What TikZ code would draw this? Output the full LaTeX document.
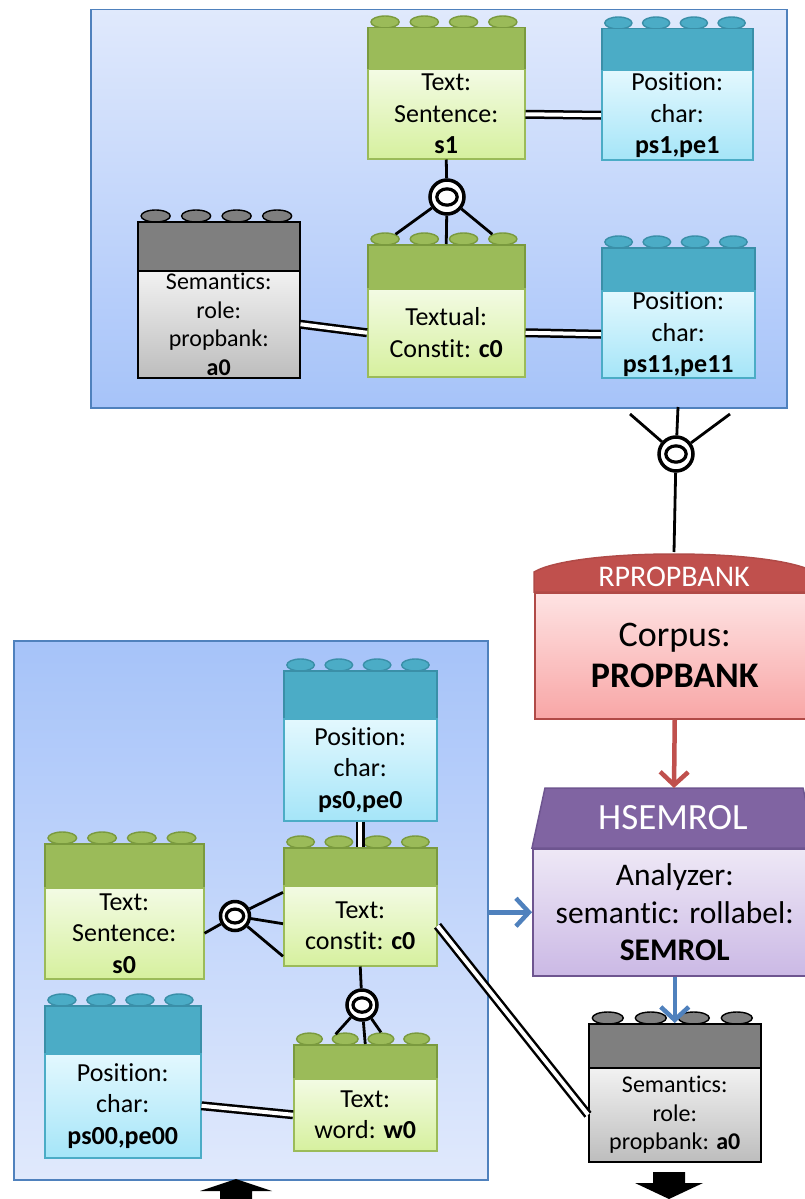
\documentclass[tikz,border=0pt]{standalone}
\usepackage{fontspec}
\setmainfont[Ligatures=NoCommon]{Carlito}
\usetikzlibrary{shapes.geometric,calc,arrows.meta,shadows}

\definecolor{gdark}{HTML}{9BBB59}
\definecolor{gline}{HTML}{7A9A3E}
\definecolor{gtop}{HTML}{F3FBE4}
\definecolor{gbot}{HTML}{D6F09E}
\definecolor{tdark}{HTML}{4BACC6}
\definecolor{tline}{HTML}{3A8FA8}
\definecolor{ttop}{HTML}{E3F8FE}
\definecolor{tbot}{HTML}{A5E5F8}
\definecolor{kdark}{HTML}{7F7F7F}
\definecolor{ktop}{HTML}{F2F2F2}
\definecolor{kbot}{HTML}{BDBDBD}
\definecolor{panelline}{HTML}{4F81BD}
\definecolor{panellight}{HTML}{E0E9FC}
\definecolor{paneldark}{HTML}{A6C3F9}
\definecolor{rdark}{HTML}{C0504D}
\definecolor{rline}{HTML}{B04A47}
\definecolor{rtop}{HTML}{FEE3E3}
\definecolor{rbot}{HTML}{F8A6A6}
\definecolor{pdark}{HTML}{8064A2}
\definecolor{pline}{HTML}{6E5590}
\definecolor{ptop}{HTML}{EEE8F6}
\definecolor{pbot}{HTML}{CBB9E5}
\definecolor{bluearrow}{HTML}{4F81BD}

\tikzset{
  shadowed/.style={drop shadow={shadow xshift=1.5pt, shadow yshift=-1.5pt, opacity=0.25, fill=black}},
  legofont/.style={font=\fontsize{26}{31.5}\selectfont},
  semfont/.style={font=\fontsize{24}{28.5}\selectfont},
  studbase/.style={ellipse, line width=1.4pt, minimum height=12, inner sep=0},
  headbase/.style={rectangle, line width=1.5pt, inner sep=0},
  bodybase/.style={rectangle, line width=1.5pt, inner sep=0, align=center, shadowed},
  gstud/.style={studbase, draw=gline, fill=gdark},
  ghead/.style={headbase, draw=gline, fill=gdark},
  gbody/.style={bodybase, draw=gdark, top color=gtop, bottom color=gbot, legofont},
  tstud/.style={studbase, draw=tline, fill=tdark},
  thead/.style={headbase, draw=tline, fill=tdark},
  tbody/.style={bodybase, draw=tdark, top color=ttop, bottom color=tbot, legofont},
  kstud/.style={studbase, draw=black, fill=kdark},
  khead/.style={headbase, draw=black, fill=kdark},
  kbody/.style={bodybase, draw=black, top color=ktop, bottom color=kbot, semfont},
  panel/.style={rectangle, draw=panelline, line width=1.5pt, inner sep=0, shadowed},
  conn/.style={line width=2.8pt, black},
  dbl/.style={double=white, double distance=4pt, line width=2.5pt},
  ringnode/.style={circle, draw=black, fill=white, line width=3.5pt, inner sep=0},
  colarrow/.style={line width=4.5pt, -{Straight Barb[length=13pt,width=28pt]}},
}

\newcommand\legoblock[8]{%
  \pgfmathsetmacro\lgw{#5-#3}%
  \pgfmathsetmacro\lgh{#6-#4}%
  \pgfmathsetmacro\lgb{#7-#6}%
  \pgfmathsetmacro\lgsw{0.18*\lgw}%
  \foreach \k in {0,1,2,3}{%
    \pgfmathsetmacro\lgsx{#3+\lgw*(0.115+0.25*\k)}%
    \node[#2stud, minimum width=\lgsw] (#1-s\k) at (\lgsx,#4-5) {};
  }%
  \node[#2head, minimum width=\lgw, minimum height=\lgh, anchor=north west] (#1h) at (#3,#4) {};
  \node[#2body, minimum width=\lgw, minimum height=\lgb, anchor=north west] (#1) at (#3,#6) {#8};
}

\newcommand\ringat[4]{%
  \node[ringnode, minimum size=#4] (#1) at (#2,#3) {};
  \draw[line width=3.2pt, fill=white] (#1.center) ellipse [x radius=0.3*#4, y radius=0.24*#4];
}

\begin{document}
\begin{tikzpicture}[x=1pt,y=-1pt]
\useasboundingbox (0,0) rectangle (805,1199);
\clip (0,0) rectangle (805,1199);
\fill[white] (0,0) rectangle (805,1199);

% panels
\node[panel, top color=panellight, bottom color=paneldark, minimum width=696, minimum height=398, anchor=north west] (toppanel) at (90,9) {};
\node[panel, top color=paneldark, bottom color=panellight, minimum width=474, minimum height=539, anchor=north west] (botpanel) at (13,640) {};

% top panel blocks
\legoblock{s1}{g}{367}{27}{524}{69}{158}{Text:\\Sentence:\\\textbf{s1}}
\legoblock{ps1}{t}{601}{28}{752}{70}{159}{Position:\\char:\\\textbf{ps1,pe1}}
\legoblock{a0top}{k}{137}{221}{299}{270}{377}{Semantics:\\role:\\propbank:\\\textbf{a0}}
\legoblock{c0top}{g}{367}{244}{524}{288}{376}{Textual:\\Constit: \textbf{c0}}
\legoblock{ps11}{t}{601}{247}{754}{290}{377}{Position:\\char:\\\textbf{ps11,pe11}}

% bottom panel blocks
\legoblock{ps0}{t}{283}{670}{436}{718}{820}{Position:\\char:\\\textbf{ps0,pe0}}
\legoblock{s0}{g}{44}{843}{203}{887}{978}{Text:\\Sentence:\\\textbf{s0}}
\legoblock{c0}{g}{283}{847}{436}{885}{965}{Text:\\constit: \textbf{c0}}
\legoblock{ps00}{t}{44}{1005}{200}{1053}{1157}{Position:\\char:\\\textbf{ps00,pe00}}
\legoblock{w0}{g}{293}{1044}{436}{1078}{1150}{Text:\\word: \textbf{w0}}
\legoblock{a0}{k}{588}{1023}{760}{1067}{1161}{Semantics:\\role:\\propbank: \textbf{a0}}

% RPROPBANK
\draw[draw=rline, fill=rdark, line width=1.5pt] (534,592) -- (534,572) .. controls (575,548) and (773,548) .. (814,572) -- (814,592) -- cycle;
\node[text=white, font=\fontsize{30}{36}\selectfont] (rpbh) at (674,577) {RPROPBANK};
\node[rectangle, draw=rline, line width=1.5pt, top color=rtop, bottom color=rbot, shadowed, minimum width=280, minimum height=126, anchor=north west, align=center, inner sep=0, font=\fontsize{36}{41}\selectfont] (rpb) at (534,592) {Corpus:\\\textbf{PROPBANK}};

% HSEMROL
\draw[draw=pline, fill=pdark, line width=1.5pt] (532,848) -- (545,788) -- (803,788) -- (816,848) -- cycle;
\node[text=white, font=\fontsize{37}{44}\selectfont] (hsemh) at (673,818) {HSEMROL};
\node[rectangle, draw=pline, line width=1.5pt, top color=ptop, bottom color=pbot, shadowed, minimum width=284, minimum height=127, anchor=north west, align=center, inner sep=0, font=\fontsize{31.5}{37.5}\selectfont] (hsem) at (532,848) {Analyzer:\\semantic: rollabel:\\\textbf{SEMROL}};

% coordinates
\coordinate (ftop) at (678,407);
\coordinate (fl) at (630,414);
\coordinate (fr) at (730,414);
\coordinate (rpbtop) at (674,552);
\coordinate (hsemtop) at (674,788);

% rings
\ringat{ring1}{447}{197}{34}
\ringat{ring2}{676}{454}{34}
\ringat{ring3}{235}{916}{29}
\ringat{ring4}{362}{1005}{30}

% top panel connectors
\draw[dbl] (s1.east) -- (ps1.west);
\draw[conn] (s1.south) -- (ring1);
\draw[conn] (ring1) -- (c0top-s0.north east);
\draw[conn] (ring1) -- (c0toph.north);
\draw[conn] (ring1) -- (c0top-s3.north west);
\draw[dbl] (a0top.east) -- (c0top.west);
\draw[dbl] (c0top.east) -- (ps11.west);

% panel to corpus
\draw[conn] (ftop) -- (ring2);
\draw[conn] (fl) -- (ring2);
\draw[conn] (fr) -- (ring2);
\draw[conn] (ring2) -- (rpbtop);

% bottom panel connectors
\draw[dbl] (ps0.south) -- (c0h.north);
\draw[conn] (s0.east) -- (ring3);
\draw[conn] (ring3) -- ($(c0.north west)!0.09!(c0.south west)$);
\draw[conn] (ring3) -- ($(c0.north west)!0.475!(c0.south west)$);
\draw[conn] (ring3) -- ($(c0.north west)!0.875!(c0.south west)$);
\draw[conn] (c0.south) -- (ring4);
\draw[conn] (ring4) -- (w0-s1.north west);
\draw[conn] (ring4) -- (w0h.north);
\draw[conn] (ring4) -- (w0-s2.north);
\draw[dbl] (ps00.east) -- (w0.west);
\draw[dbl] (c0.east) -- (a0.west);

% coloured arrows
\draw[colarrow, draw=rdark] (rpb.south) -- (hsemtop);
\draw[colarrow, draw=bluearrow] (botpanel.east |- hsem.west) -- (hsem.west);
\draw[colarrow, draw=bluearrow] (hsem.south) -- (a0h.north);

% black block arrows
\fill[black] (236,1179) -- (272,1191) -- (252,1191) -- (252,1210) -- (220,1210) -- (220,1191) -- (200,1191) -- cycle;
\fill[black] (653,1172) -- (685,1172) -- (685,1183) -- (703,1183) -- (669,1199) -- (635,1183) -- (653,1183) -- cycle;
\end{tikzpicture}
\end{document}
